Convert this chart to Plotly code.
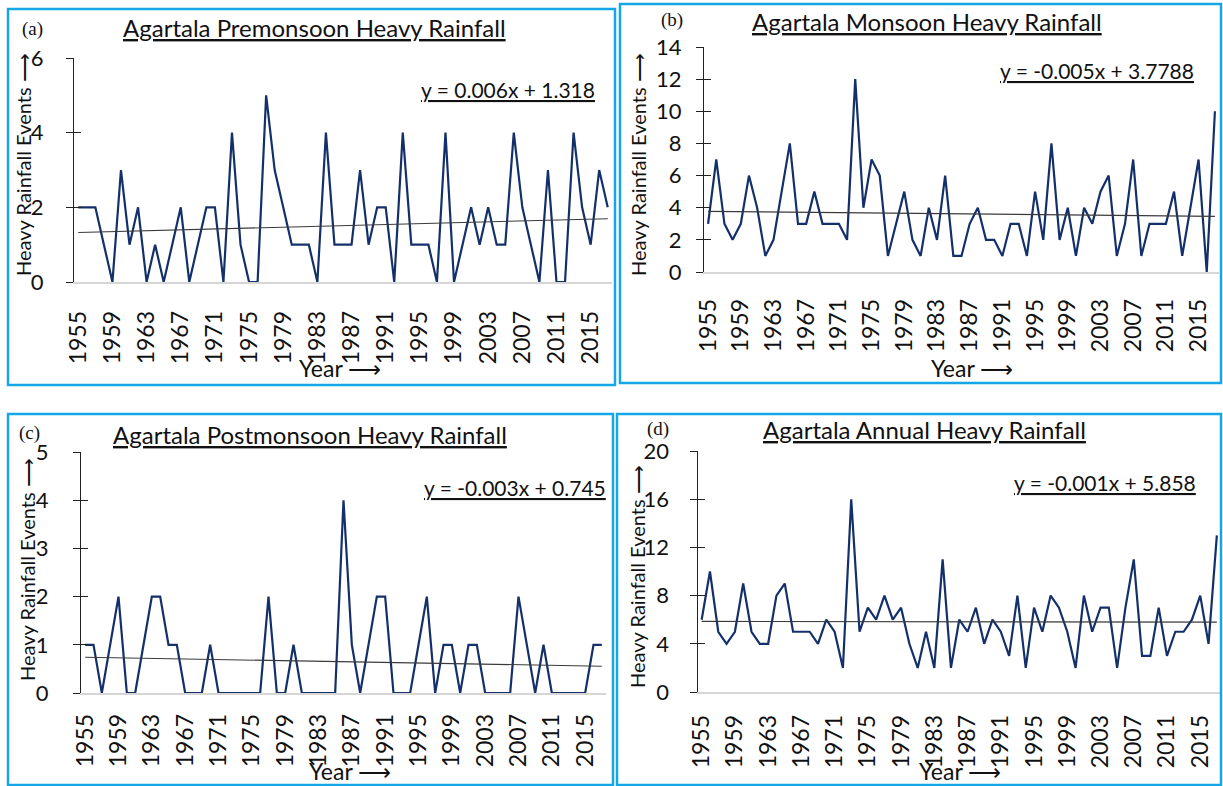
import plotly.graph_objects as go

W, H = 1223, 786

years = list(range(1955, 2018))
tick_years = list(range(1955, 2016, 4))

premonsoon = [2, 2, 2, 1, 0, 3, 1, 2, 0, 1, 0, 1, 2, 0, 1, 2, 2, 0, 4, 1,
              0, 0, 5, 3, 2, 1, 1, 1, 0, 4, 1, 1, 1, 3, 1, 2, 2, 0, 4, 1,
              1, 1, 0, 4, 0, 1, 2, 1, 2, 1, 1, 4, 2, 1, 0, 3, 0, 0, 4, 2,
              1, 3, 2]
monsoon = [3, 7, 3, 2, 3, 6, 4, 1, 2, 5, 8, 3, 3, 5, 3, 3, 3, 2, 12, 4,
           7, 6, 1, 3, 5, 2, 1, 4, 2, 6, 1, 1, 3, 4, 2, 2, 1, 3, 3, 1,
           5, 2, 8, 2, 4, 1, 4, 3, 5, 6, 1, 3, 7, 1, 3, 3, 3, 5, 1, 4,
           7, 0, 10]
postmonsoon = [1, 1, 0, 1, 2, 0, 0, 1, 2, 2, 1, 1, 0, 0, 0, 1, 0, 0, 0, 0,
               0, 0, 2, 0, 0, 1, 0, 0, 0, 0, 0, 4, 1, 0, 1, 2, 2, 0, 0, 0,
               1, 2, 0, 1, 1, 0, 1, 1, 0, 0, 0, 0, 2, 1, 0, 1, 0, 0, 0, 0,
               0, 1, 1]
annual = [6, 10, 5, 4, 5, 9, 5, 4, 4, 8, 9, 5, 5, 5, 4, 6, 5, 2, 16, 5,
          7, 6, 8, 6, 7, 4, 2, 5, 2, 11, 2, 6, 5, 7, 4, 6, 5, 3, 8, 2,
          7, 5, 8, 7, 5, 2, 8, 5, 7, 7, 2, 7, 11, 3, 3, 7, 3, 5, 5, 6,
          8, 4, 13]

titles = ["Agartala Premonsoon Heavy Rainfall", "Agartala Monsoon Heavy Rainfall",
          "Agartala Postmonsoon Heavy Rainfall", "Agartala Annual Heavy Rainfall"]
panel_tags = ["(a)", "(b)", "(c)", "(d)"]
slopes = [0.006, -0.005, -0.003, -0.001]
intercepts = [1.318, 3.7788, 0.745, 5.858]
equations = ["y = 0.006x + 1.318", "y = -0.005x + 3.7788",
             "y = -0.003x + 0.745", "y = -0.001x + 5.858"]
y_max = [6, 14, 5, 20]
y_step = [2, 2, 1, 4]
series = [premonsoon, monsoon, postmonsoon, annual]

FONT = "Lato"
LINE_COLOR = "#14306a"
FRAME_COLOR = "#14a6e6"


def px(x):
    return x / W


def py(y):
    return 1 - y / H


# pixel layout of each panel
plot_box = [(74, 612, 58, 282), (704, 1219, 47, 272),
            (81, 606, 452, 693), (697.5, 1221, 451, 692)]
frames = [(8, 9, 615, 385), (620, 4, 1221, 383),
          (8, 414, 613, 785), (617, 414, 1221, 785)]
title_pos = [(314, 28), (927, 22), (310, 434), (924, 430)]
tag_pos = [(32, 29), (672, 20), (29, 433), (658, 429)]
eq_pos = [(597, 90), (1196, 71), (608, 487), (1198, 482)]
ytitle_pos = [(23, 165), (638, 165), (27, 570), (637, 577)]
xtitle_pos = [(340, 368), (972, 368), (350, 771), (960, 771)]
ylabel_standoff = [18, 10, 20, 16]
xlabel_standoff = [18, 16, 10, 12]

fig = go.Figure()
annotations = []
shapes = []

for k in range(4):
    x0, x1, y0, y1 = plot_box[k]
    xa = "x" if k == 0 else f"x{k + 1}"
    ya = "y" if k == 0 else f"y{k + 1}"
    ya_over = f"y{k + 5}"

    fig.add_trace(go.Scatter(
        x=years, y=series[k], mode="lines",
        line=dict(color=LINE_COLOR, width=2.2),
        xaxis=xa, yaxis=ya, showlegend=False, hoverinfo="x+y"))

    trend = [slopes[k] * (i + 1) + intercepts[k] for i in range(len(years))]
    fig.add_trace(go.Scatter(
        x=years, y=trend, mode="lines",
        line=dict(color="#3a3a3a", width=1.1),
        xaxis=xa, yaxis=ya_over, showlegend=False, hoverinfo="skip"))

    xkey = "xaxis" if k == 0 else f"xaxis{k + 1}"
    ykey = "yaxis" if k == 0 else f"yaxis{k + 1}"
    fig.layout[xkey] = dict(
        domain=[px(x0), px(x1)], anchor=ya, automargin=False,
        range=[1954.5, 2017.5], tickmode="array", tickvals=tick_years,
        ticktext=[str(t) for t in tick_years], tickangle=-90,
        ticks="", showline=True, linecolor="#d6d6d6", linewidth=1.5,
        showgrid=False, zeroline=False, ticklabelstandoff=xlabel_standoff[k],
        tickfont=dict(family=FONT, size=23, color="#111111"))
    fig.layout[ykey] = dict(
        domain=[py(y1), py(y0)], anchor=xa, automargin=False,
        range=[0, y_max[k]], dtick=y_step[k], tick0=0,
        ticks="outside", ticklen=7, tickcolor="#222222", tickwidth=1,
        showline=True, linecolor="#222222", linewidth=1,
        showgrid=False, zeroline=False, ticklabelstandoff=ylabel_standoff[k],
        tickfont=dict(family=FONT, size=22, color="#111111"))
    # second axis carries the inner half of the crossing tick marks
    fig.layout[f"yaxis{k + 5}"] = dict(
        overlaying=ya, anchor=xa, side="left", automargin=False,
        range=[0, y_max[k]], dtick=y_step[k], tick0=0,
        ticks="inside", ticklen=7, tickcolor="#222222", tickwidth=1,
        showline=False, showgrid=False, zeroline=False, showticklabels=False)

    fx0, fy0, fx1, fy1 = frames[k]
    shapes.append(dict(type="rect", xref="paper", yref="paper",
                       x0=px(fx0), x1=px(fx1), y0=py(fy1), y1=py(fy0),
                       line=dict(color=FRAME_COLOR, width=2.5), layer="above"))

    tx, ty = title_pos[k]
    annotations.append(dict(
        text=f"<u>{titles[k]}</u>", x=px(tx), y=py(ty), xref="paper", yref="paper",
        xanchor="center", yanchor="middle", showarrow=False,
        font=dict(family=FONT, size=24, color="#111111")))
    gx, gy = tag_pos[k]
    annotations.append(dict(
        text=panel_tags[k], x=px(gx), y=py(gy), xref="paper", yref="paper",
        xanchor="center", yanchor="middle", showarrow=False,
        font=dict(family="Liberation Serif", size=19, color="#111111")))
    ex, ey = eq_pos[k]
    annotations.append(dict(
        text=f"<u>{equations[k]}</u>", x=px(ex), y=py(ey), xref="paper", yref="paper",
        xanchor="right", yanchor="middle", showarrow=False,
        font=dict(family=FONT, size=21, color="#111111")))
    vx, vy = ytitle_pos[k]
    annotations.append(dict(
        text="Heavy Rainfall Events \u27f6", x=px(vx), y=py(vy),
        xref="paper", yref="paper", textangle=-90,
        xanchor="center", yanchor="middle", showarrow=False,
        font=dict(family=FONT, size=20, color="#111111")))
    hx, hy = xtitle_pos[k]
    annotations.append(dict(
        text="Year \u27f6", x=px(hx), y=py(hy), xref="paper", yref="paper",
        xanchor="center", yanchor="middle", showarrow=False,
        font=dict(family=FONT, size=23, color="#111111")))

fig.update_layout(
    width=W, height=H, margin=dict(l=0, r=0, t=0, b=0, pad=0),
    paper_bgcolor="white", plot_bgcolor="white",
    annotations=annotations, shapes=shapes, showlegend=False)

fig.write_html("out.html", post_script="document.body.style.margin='0';")
